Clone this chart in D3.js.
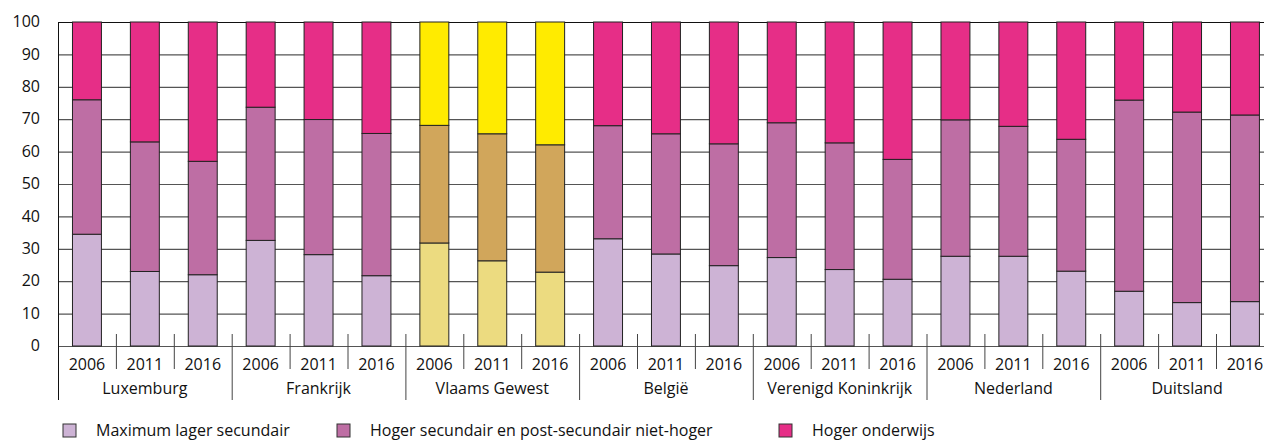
<!DOCTYPE html>
<html>
<head>
<meta charset="utf-8">
<script src="https://cdn.jsdelivr.net/npm/d3@7"></script>
<style>
  body { margin: 0; background: #fff; }
  svg { display: block; font-family: 'Open Sans', sans-serif; }
</style>
</head>
<body>
<div id="chart-area"></div>
<script>
(() => {

  // data
  const groups = ['Luxemburg', 'Frankrijk', 'Vlaams Gewest', 'België', 'Verenigd Koninkrijk', 'Nederland', 'Duitsland'];
  const years = ['2006', '2011', '2016'];
  const series = ['Maximum lager secundair', 'Hoger secundair en post-secundair niet-hoger', 'Hoger onderwijs'];
  const lagerSec = [34.5, 23.0, 22.0, 32.6, 28.2, 21.7, 31.8, 26.3, 22.8, 33.1, 28.4, 24.8, 27.3, 23.6, 20.6, 27.7, 27.7, 23.1, 16.9, 13.4, 13.7];
  const hogerSec = [41.5, 40.0, 35.0, 41.1, 41.7, 43.9, 36.3, 39.2, 39.3, 34.9, 37.1, 37.6, 41.6, 39.1, 37.0, 42.1, 40.1, 40.7, 59.0, 58.8, 57.6];
  const hogerOnd = [24.0, 37.0, 43.0, 26.3, 30.1, 34.4, 31.9, 34.5, 37.9, 32.0, 34.5, 37.6, 31.1, 37.3, 42.4, 30.2, 32.2, 36.2, 24.1, 27.8, 28.7];
  const yTicks = [0, 10, 20, 30, 40, 50, 60, 70, 80, 90, 100];

  const colors = ['#cdb3d5', '#be6ea4', '#e62e87'];
  const highlight = ['#ecdb80', '#d1a65b', '#ffeb00'];
  const highlightGroup = 'Vlaams Gewest';

  const rows = [];
  groups.forEach((g, gi) => years.forEach((yr, yi) => {
    const i = gi * years.length + yi;
    rows.push({ id: i, group: g, year: yr, s0: lagerSec[i], s1: hogerSec[i], s2: hogerOnd[i] });
  }));

  const margin = { left: 58, top: 22 };
  const step = 57.9;
  const plotH = 324;

  const svg = d3.select('#chart-area').append('svg')
    .attr('width', 1264)
    .attr('height', 441);

  const x = d3.scaleBand()
    .domain(rows.map(d => d.id))
    .range([margin.left, margin.left + step * rows.length])
    .paddingInner(0.5)
    .paddingOuter(0.25);

  const y = d3.scaleLinear()
    .domain([0, 100])
    .range([margin.top + plotH, margin.top]);

  // gridlines
  svg.append('g')
    .selectAll('line')
    .data(yTicks)
    .join('line')
      .attr('x1', margin.left)
      .attr('x2', x.range()[1])
      .attr('y1', d => y(d) + 0.5)
      .attr('y2', d => y(d) + 0.5)
      .attr('stroke', d => d === 100 ? '#111' : '#555')
      .attr('stroke-width', 1.2);

  // y labels
  svg.append('g')
    .selectAll('text')
    .data(yTicks)
    .join('text')
      .attr('x', 40)
      .attr('y', d => y(d) + 1)
      .attr('text-anchor', 'end')
      .attr('dominant-baseline', 'middle')
      .attr('font-size', 16)
      .attr('fill', '#111')
      .text(d => d);

  // bars
  const stack = d3.stack().keys(['s0', 's1', 's2']);
  const layers = stack(rows);

  svg.append('g')
    .selectAll('g')
    .data(layers)
    .join('g')
    .selectAll('rect')
    .data((L, li) => L.map(p => ({ p, li })))
    .join('rect')
      .attr('x', d => x(d.p.data.id))
      .attr('width', x.bandwidth())
      .attr('y', d => y(d.p[1]))
      .attr('height', d => y(d.p[0]) - y(d.p[1]))
      .attr('fill', d => d.p.data.group === highlightGroup ? highlight[d.li] : colors[d.li])
      .attr('stroke', '#222')
      .attr('stroke-width', 1);

  // y axis line
  const y0 = y(0) + 0.5;
  svg.append('line')
    .attr('x1', margin.left + 0.5).attr('x2', margin.left + 0.5)
    .attr('y1', margin.top).attr('y2', 400)
    .attr('stroke', '#111');

  // separators between years and groups
  const x0 = x.range()[0];
  const seps = d3.range(1, rows.length + 1);
  svg.append('g')
    .selectAll('line')
    .data(seps)
    .join('line')
      .attr('x1', i => x0 + i * x.step() + 0.5)
      .attr('x2', i => x0 + i * x.step() + 0.5)
      .attr('y1', 334)
      .attr('y2', i => i % years.length === 0 ? 400 : 369)
      .attr('stroke', '#444')
      .attr('stroke-width', 1);

  // year labels
  svg.append('g')
    .selectAll('text')
    .data(rows)
    .join('text')
      .attr('x', d => x(d.id) + x.bandwidth() / 2)
      .attr('y', 366)
      .attr('text-anchor', 'middle')
      .attr('dominant-baseline', 'middle')
      .attr('font-size', 16)
      .attr('fill', '#111')
      .text(d => d.year);

  // group labels
  svg.append('g')
    .selectAll('text')
    .data(groups)
    .join('text')
      .attr('x', (g, gi) => x0 + (gi * years.length + 1.5) * x.step())
      .attr('y', 390)
      .attr('text-anchor', 'middle')
      .attr('dominant-baseline', 'middle')
      .attr('font-size', 16)
      .attr('fill', '#111')
      .text(d => d);

  // legend
  const legendX = [63, 337, 779];
  const legend = svg.append('g')
    .selectAll('g')
    .data(series)
    .join('g')
      .attr('transform', (d, i) => `translate(${legendX[i]}, 424)`);

  legend.append('rect')
    .attr('width', 13).attr('height', 13)
    .attr('fill', (d, i) => colors[i])
    .attr('stroke', '#333');

  legend.append('text')
    .attr('x', 33)
    .attr('y', 7.5)
    .attr('dominant-baseline', 'middle')
    .attr('font-size', 16)
    .attr('fill', '#111')
    .text(d => d);

})();
</script>
</body>
</html>
